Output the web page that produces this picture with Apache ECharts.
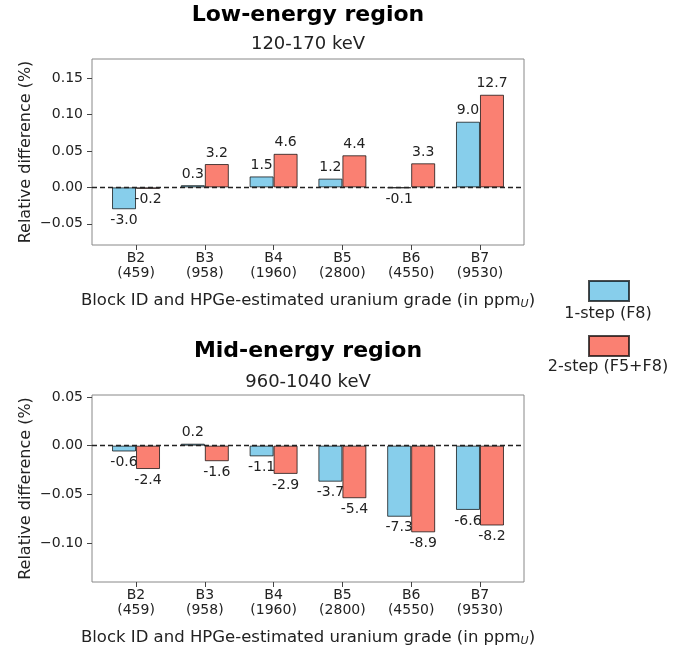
<!DOCTYPE html>
<html>
<head>
<meta charset="UTF-8">
<title>Relative difference by block</title>
<script src="https://cdn.jsdelivr.net/npm/echarts@6/dist/echarts.min.js"></script>
<style>
html, body { margin: 0; padding: 0; background: #fff; }
#main { width: 697px; height: 652px; }
</style>
</head>
<body>
<div id="main"></div>
<script>
// blocks and HPGe uranium grade
var blocks = ['B2', 'B3', 'B4', 'B5', 'B6', 'B7'];
var grades = ['459', '958', '1960', '2800', '4550', '9530'];

// relative difference (%), low-energy region 120-170 keV
var lowOneStep = [-0.030, 0.003, 0.015, 0.012, -0.001, 0.090];
var lowTwoStep = [-0.002, 0.032, 0.046, 0.044, 0.033, 0.127];

// relative difference (%), mid-energy region 960-1040 keV
var midOneStep = [-0.006, 0.002, -0.011, -0.037, -0.073, -0.066];
var midTwoStep = [-0.024, -0.016, -0.029, -0.054, -0.089, -0.082];

var xTicks = [0, 1, 2, 3, 4, 5];
var lowTicks = [-0.05, 0, 0.05, 0.10, 0.15];
var midTicks = [-0.10, -0.05, 0, 0.05];

var FONT = 'DejaVu Sans';
var BLUE = '#87CEEB';
var RED = '#FA8072';
var EDGE = 'rgba(0,0,0,0.7)';

function barData(vals) {
    return vals.map(function (v, i) {
        return { value: [i, v], label: { position: v < 0 ? 'bottom' : 'top' } };
    });
}

function xAxisFor(g) {
    return {
        type: 'value', gridIndex: g, min: -0.64, max: 5.64,
        splitLine: { show: false },
        axisLine: { show: false, onZero: false },
        axisTick: { show: true, customValues: xTicks, length: 5, lineStyle: { color: '#444' } },
        axisLabel: {
            customValues: xTicks, fontSize: 14, lineHeight: 15, color: '#222', margin: 6, fontFamily: FONT,
            formatter: function (v) { var i = Math.round(v); return blocks[i] + '\n(' + grades[i] + ')'; }
        },
        name: 'Block ID and HPGe-estimated uranium grade (in ppm{sub|U})',
        nameLocation: 'middle', nameGap: 46, nameMoveOverlap: false,
        nameTextStyle: {
            fontSize: 16.5, lineHeight: 19, color: '#222', fontFamily: FONT,
            rich: { sub: { fontSize: 11, fontStyle: 'italic', color: '#222', fontFamily: FONT, verticalAlign: 'bottom', lineHeight: 12 } }
        }
    };
}

function yAxisFor(g, min, max, ticks) {
    return {
        type: 'value', gridIndex: g, min: min, max: max,
        splitLine: { show: false },
        axisLine: { show: false, onZero: false },
        axisTick: { show: true, customValues: ticks, length: 5, lineStyle: { color: '#444' } },
        axisLabel: {
            customValues: ticks, fontSize: 14, color: '#222', margin: 9, fontFamily: FONT,
            formatter: function (v) { return v.toFixed(2).replace('-', '\u2212'); }
        },
        name: 'Relative difference (%)',
        nameLocation: 'middle', nameRotate: 90, nameGap: 58, nameMoveOverlap: false,
        nameTextStyle: { fontSize: 16, color: '#222', fontFamily: FONT }
    };
}

var zeroLine = {
    silent: true, symbol: 'none', label: { show: false },
    lineStyle: { type: [5, 3], color: '#222', width: 1.3 },
    data: [{ yAxis: 0 }]
};

function barSeries(name, color, vals, g, withLine) {
    var s = {
        name: name, type: 'bar', xAxisIndex: g, yAxisIndex: g,
        barWidth: 24, barGap: '0%',
        itemStyle: { color: color, borderColor: EDGE, borderWidth: 1 },
        label: {
            show: true, fontSize: 14, color: '#222', distance: 4, fontFamily: FONT,
            formatter: function (p) { return (p.value[1] * 100).toFixed(1); }
        },
        data: barData(vals)
    };
    if (withLine) s.markLine = zeroLine;
    return s;
}

var myChart = echarts.init(document.getElementById('main'));

var option = {
    animation: false,
    backgroundColor: '#fff',
    textStyle: { fontFamily: FONT },
    title: [
        {
            text: 'Low-energy region', subtext: '120-170 keV',
            left: 308, top: 4, textAlign: 'center', padding: 0, itemGap: 9,
            textStyle: { fontSize: 22, fontWeight: 'bold', lineHeight: 22, color: '#000', fontFamily: FONT },
            subtextStyle: { fontSize: 18, lineHeight: 18, color: '#222', fontFamily: FONT }
        },
        {
            text: 'Mid-energy region', subtext: '960-1040 keV',
            left: 308, top: 340, textAlign: 'center', padding: 0, itemGap: 11,
            textStyle: { fontSize: 22, fontWeight: 'bold', lineHeight: 22, color: '#000', fontFamily: FONT },
            subtextStyle: { fontSize: 18, lineHeight: 18, color: '#222', fontFamily: FONT }
        }
    ],
    legend: {
        data: ['1-step (F8)', '2-step (F5+F8)'],
        orient: 'vertical', left: 588, top: 280, padding: 0,
        icon: 'rect', itemWidth: 40, itemHeight: 20, itemGap: 33,
        formatter: function () { return ''; },
        selectedMode: false
    },
    graphic: [
        { type: 'text', x: 608, y: 314, style: { text: '1-step (F8)', align: 'center', verticalAlign: 'middle', fontSize: 16, fontFamily: FONT, fill: '#222' } },
        { type: 'text', x: 608, y: 367, style: { text: '2-step (F5+F8)', align: 'center', verticalAlign: 'middle', fontSize: 16, fontFamily: FONT, fill: '#222' } }
    ],
    grid: [
        { left: 92, top: 59, width: 432, height: 186, show: true, borderColor: '#888', borderWidth: 1, backgroundColor: 'transparent' },
        { left: 92, top: 395, width: 432, height: 187, show: true, borderColor: '#888', borderWidth: 1, backgroundColor: 'transparent' }
    ],
    xAxis: [xAxisFor(0), xAxisFor(1)],
    yAxis: [
        yAxisFor(0, -0.079, 0.176, lowTicks),
        yAxisFor(1, -0.140, 0.052, midTicks)
    ],
    series: [
        barSeries('1-step (F8)', BLUE, lowOneStep, 0, true),
        barSeries('2-step (F5+F8)', RED, lowTwoStep, 0, false),
        barSeries('1-step (F8)', BLUE, midOneStep, 1, true),
        barSeries('2-step (F5+F8)', RED, midTwoStep, 1, false)
    ]
};
myChart.setOption(option);
</script>
</body>
</html>
